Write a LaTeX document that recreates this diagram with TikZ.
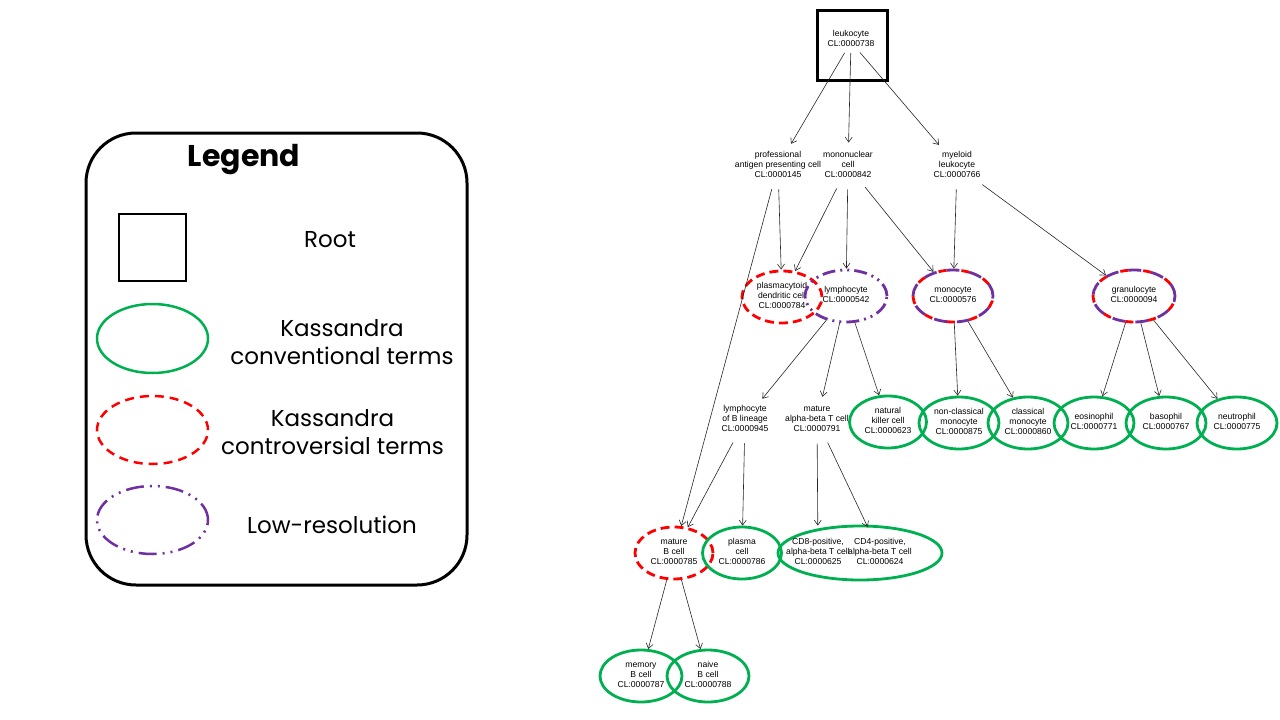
\documentclass[tikz,border=0pt]{standalone}
\usepackage{fontspec}
\setmainfont{Liberation Sans}
\newfontfamily\legfont{Poppins}
\usetikzlibrary{shapes.geometric,arrows.meta}
\definecolor{kgreen}{HTML}{00B050}
\definecolor{kred}{HTML}{FF0000}
\definecolor{kpurple}{HTML}{7030A0}
\newcommand\celltext[1]{\smash{\makebox[0pt]{\raisebox{-2pt}{\fontsize{8.6}{10}\selectfont\begin{tabular}[c]{@{}c@{}}#1\end{tabular}}}}}
\tikzset{
  cell/.style={ellipse, inner sep=0pt, minimum width=80pt, minimum height=52pt, line width=2.8pt},
  plain/.style={cell, draw=none, minimum height=44pt},
  conv/.style={cell, draw=kgreen},
  contro/.style={cell, draw=kred, dash pattern=on 9pt off 5pt},
  lowres/.style={cell, draw=kpurple, dash pattern=on 13pt off 5pt on 2pt off 5pt on 2pt off 5pt},
  mixed/.style={cell, draw=kpurple, dash pattern=on 13pt off 10pt,
     postaction={draw=kred, dash pattern=on 8pt off 15pt, dash phase=10pt}},
  isa/.style={draw=black!85, line width=0.6pt, -{Straight Barb[length=5pt,width=7pt]}},
  legtext/.style={font=\legfont\fontsize{23}{28}\selectfont, align=center, inner sep=0pt},
}
\begin{document}
\begin{tikzpicture}[x=1pt,y=-1pt]
\useasboundingbox (0,0) rectangle (1280,720);
% ---------------- Legend ----------------
\draw[line width=3pt, rounded corners=50pt] (86,133) rectangle (467,585);
\node[font=\legfont\bfseries\fontsize{30}{36}\selectfont, inner sep=0pt] (legtitle) at (244,160) {Legend};
\node[draw, line width=2.5pt, minimum size=67pt, inner sep=0pt] (legroot) at (152.5,247.5) {};
\node[legtext] (legroottxt) at (330,240) {Root};
\node[ellipse, draw=kgreen, line width=2.5pt, minimum width=111pt, minimum height=69pt, inner sep=0pt] (legconv) at (152.5,338.5) {};
\node[legtext] (legconvtxt) at (342,342) {Kassandra\\conventional terms};
\node[ellipse, draw=kred, line width=2.5pt, dash pattern=on 9pt off 6pt, minimum width=111pt, minimum height=68pt, inner sep=0pt] (legcontro) at (152.5,430) {};
\node[legtext] (legcontrotxt) at (332.5,432) {Kassandra\\controversial terms};
\node[ellipse, draw=kpurple, line width=2.5pt, dash pattern=on 18pt off 6pt on 2pt off 6pt on 2pt off 6pt, minimum width=111pt, minimum height=68pt, inner sep=0pt] (leglow) at (152.5,520) {};
\node[legtext] (leglowtxt) at (332,525) {Low-resolution};
% ---------------- Graph ----------------
\node[draw, line width=3pt, minimum size=70pt, inner sep=0pt] (leukbox) at (852,45) {};
\node[inner sep=0pt] (leuktxt) at (851,40) {\celltext{leukocyte\\CL:0000738}};
\node[ellipse, inner sep=0pt, minimum width=50pt, minimum height=22pt] (leuk) at (851,42) {};
\node[plain] (prof) at (778,166) {\celltext{professional\\antigen presenting cell\\CL:0000145}};
\node[plain] (mono) at (848,166) {\celltext{mononuclear\\cell\\CL:0000842}};
\node[plain] (myel) at (957,166) {\celltext{myeloid\\leukocyte\\CL:0000766}};
\node[contro] (pdc) at (782,297) {\celltext{plasmacytoid\\dendritic cell\\CL:0000784}};
\node[lowres, minimum width=82pt] (lymph) at (846,296) {\celltext{lymphocyte\\CL:0000542}};
\node[mixed] (monoc) at (953,296) {\celltext{monocyte\\CL:0000576}};
\node[mixed, minimum width=82pt] (gran) at (1134,296) {\celltext{granulocyte\\CL:0000094}};
\node[plain] (blin) at (745,420) {\celltext{lymphocyte\\of B lineage\\CL:0000945}};
\node[plain] (abt) at (817,420) {\celltext{mature\\alpha-beta T cell\\CL:0000791}};
\node[conv, minimum width=77pt] (nk) at (888,422) {\celltext{natural\\killer cell\\CL:0000623}};
\node[conv] (ncm) at (959,423) {\celltext{non-classical\\monocyte\\CL:0000875}};
\node[conv] (cm) at (1028,423) {\celltext{classical\\monocyte\\CL:0000860}};
\node[conv] (eos) at (1094,423) {\celltext{eosinophil\\CL:0000771}};
\node[conv] (baso) at (1166,423) {\celltext{basophil\\CL:0000767}};
\node[conv] (neut) at (1237,423) {\celltext{neutrophil\\CL:0000775}};
\node[contro, minimum width=78pt] (matb) at (674,553) {\celltext{mature\\B cell\\CL:0000785}};
\node[conv, minimum width=79pt] (plasma) at (742,553) {\celltext{plasma\\cell\\CL:0000786}};
\node[conv, minimum width=164pt, minimum height=54pt] (cdgroup) at (860,553) {};
\node[plain, minimum width=78pt, minimum height=52pt] (cd8) at (818,553) {\celltext{CD8-positive,\\alpha-beta T cell\\CL:0000625}};
\node[plain, minimum width=78pt, minimum height=52pt] (cd4) at (880,553) {\celltext{CD4-positive,\\alpha-beta T cell\\CL:0000624}};
\node[conv, minimum width=82pt] (mem) at (641,676) {\celltext{memory\\B cell\\CL:0000787}};
\node[conv, minimum width=82pt] (naive) at (708,676) {\celltext{naive\\B cell\\CL:0000788}};
% edges
\draw[isa] (leuk) -- (prof);
\draw[isa] (leuk) -- (mono);
\draw[isa] (leuk) -- (myel);
\draw[isa] (prof) -- (pdc);
\draw[isa] (prof) -- (matb);
\draw[isa] (mono) -- (pdc);
\draw[isa] (mono) -- (lymph);
\draw[isa] (mono) -- (monoc);
\draw[isa] (myel) -- (monoc);
\draw[isa] (myel) -- (gran);
\draw[isa] (lymph) -- (blin);
\draw[isa] (lymph) -- (abt);
\draw[isa] (lymph) -- (nk);
\draw[isa] (monoc) -- (ncm);
\draw[isa] (monoc) -- (cm);
\draw[isa] (gran) -- (eos);
\draw[isa] (gran) -- (baso);
\draw[isa] (gran) -- (neut);
\draw[isa] (blin) -- (matb);
\draw[isa] (blin) -- (plasma);
\draw[isa] (abt) -- (cd8);
\draw[isa] (abt) -- (cd4);
\draw[isa] (matb) -- (mem);
\draw[isa] (matb) -- (naive);
\end{tikzpicture}
\end{document}
